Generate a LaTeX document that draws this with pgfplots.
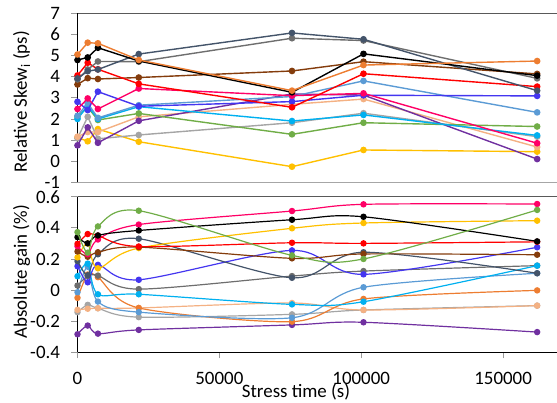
\documentclass[border=0pt]{standalone}
\usepackage{fontspec}
\setmainfont{Carlito}
\usepackage{pgfplots}
\pgfplotsset{compat=1.18}
\definecolor{cOrange}{HTML}{ED7D31}
\definecolor{cRed}{HTML}{FF0000}
\definecolor{cGray}{HTML}{6E6E6E}
\definecolor{cSlate}{HTML}{44546A}
\definecolor{cBrown}{HTML}{843C0C}
\definecolor{cBlue}{HTML}{4436F0}
\definecolor{cPink}{HTML}{FF0066}
\definecolor{cLBlue}{HTML}{5B9BD5}
\definecolor{cCyan}{HTML}{00B0F0}
\definecolor{cGreen}{HTML}{70AD47}
\definecolor{cPeach}{HTML}{F4B183}
\definecolor{cLGray}{HTML}{A5A5A5}
\definecolor{cYellow}{HTML}{FFC000}
\definecolor{cPurple}{HTML}{7030A0}
\newcommand{\fs}{\fontsize{19}{22}\selectfont}
\pgfplotsset{
  myax/.style={scale only axis, width=479.5bp, xmin=0, xmax=169000,
    axis x line*=bottom, axis y line*=left,
    tick align=outside, major tick length=6bp,
    tick style={draw=gray!80, line width=0.8bp},
    tick label style={font=\fs, inner sep=0pt},
    yticklabel style={xshift=-11.3bp},
    /pgf/number format/assume math mode=true,
    clip mode=individual},
  s/.style={mark=*, mark size=2.6bp, line width=1.4bp, color=#1, mark options={solid}},
}
\begin{document}
\begin{tikzpicture}
\path[use as bounding box] (0,0) rectangle (557bp,-403bp);
% ---------------- top panel
\begin{axis}[myax, at={(77.5bp,-13.3bp)}, anchor=north west, height=169bp,
  ymin=-1, ymax=7, ytick={-1,0,1,2,3,4,5,6,7}, xtick=\empty,
  x axis line style={-, draw=black!35, line width=1.2bp},
  y axis line style={-, draw=black, line width=1.2bp},
  ylabel={Relative Skew\textsubscript{i} (ps)},
  every axis y label/.style={at={(axis description cs:0,0.476)}, xshift=-56bp, rotate=90, anchor=center, font=\fs, inner sep=0pt},
]
\addplot[s=cYellow] coordinates {(0,1.12)(3600,0.94)(7200,1.52)(21600,0.92)(75600,-0.26)(100800,0.53)(162000,0.45)};
\addplot[s=cLGray] coordinates {(0,1.08)(3600,2.10)(7200,1.06)(21600,1.24)(75600,1.82)(100800,2.27)(162000,1.16)};
\addplot[s=cPeach] coordinates {(0,1.16)(3600,1.38)(7200,1.38)(21600,2.10)(75600,2.69)(100800,2.94)(162000,0.67)};
\addplot[s=cPurple] coordinates {(0,0.75)(3600,1.60)(7200,0.87)(21600,1.91)(75600,3.18)(100800,3.13)(162000,0.10)};
\addplot[s=cGreen] coordinates {(0,2.10)(3600,2.55)(7200,1.95)(21600,2.26)(75600,1.27)(100800,1.82)(162000,1.64)};
\addplot[s=cCyan] coordinates {(0,2.00)(3600,2.62)(7200,2.00)(21600,2.58)(75600,1.90)(100800,2.19)(162000,1.22)};
\addplot[s=cLBlue] coordinates {(0,2.15)(3600,2.74)(7200,2.05)(21600,2.65)(75600,3.06)(100800,3.80)(162000,2.31)};
\addplot[s=cBlue] coordinates {(0,2.81)(3600,2.42)(7200,3.29)(21600,2.60)(75600,2.82)(100800,3.12)(162000,3.09)};
\addplot[s=cPink] coordinates {(0,2.47)(3600,2.97)(7200,2.47)(21600,3.44)(75600,3.10)(100800,3.21)(162000,0.85)};
\addplot[s=cBrown] coordinates {(0,3.63)(3600,3.93)(7200,3.89)(21600,3.96)(75600,4.27)(100800,4.71)(162000,4.13)};
\addplot[s=cRed] coordinates {(0,4.06)(3600,4.66)(7200,4.35)(21600,3.66)(75600,2.55)(100800,4.14)(162000,3.53)};
\addplot[s=cGray] coordinates {(0,3.87)(3600,4.34)(7200,4.72)(21600,4.71)(75600,5.82)(100800,5.71)(162000,3.92)};
\addplot[s=cSlate] coordinates {(0,3.92)(3600,4.26)(7200,4.34)(21600,5.07)(75600,6.07)(100800,5.77)(162000,3.34)};
\addplot[s=black] coordinates {(0,4.79)(3600,4.91)(7200,5.37)(21600,4.74)(75600,3.26)(100800,5.08)(162000,4.05)};
\addplot[s=cOrange] coordinates {(0,5.05)(3600,5.61)(7200,5.58)(21600,4.79)(75600,3.34)(100800,4.55)(162000,4.74)};
\draw[draw=black!65, line width=1.2bp] (rel axis cs:0,1) -- (rel axis cs:1,1);
\end{axis}
% ---------------- bottom panel
\begin{axis}[myax, at={(77.5bp,-196.7bp)}, anchor=north west, height=155.6bp,
  ymin=-0.4, ymax=0.6, ytick={-0.4,-0.2,0,0.2,0.4,0.6},
  xtick={0,50000,100000,150000}, scaled x ticks=false,
  xticklabel={\pgfmathprintnumber[fixed,1000 sep={},assume math mode=true]{\tick}},
  xticklabel style={yshift=-14bp},
  x axis line style={-, draw=black, line width=1.2bp},
  y axis line style={-, draw=black, line width=1.2bp},
  ylabel={Absolute gain (\%)}, xlabel={Stress time (s)},
  every axis y label/.style={at={(axis description cs:0,0.518)}, xshift=-56bp, rotate=90, anchor=center, font=\fs, inner sep=0pt},
  every axis x label/.style={at={(axis description cs:0.4557,0)}, anchor=center, yshift=-40bp, font=\fs, inner sep=0pt},
  every axis plot/.append style={smooth},
]
\addplot[s=cPurple, line width=1.2bp] coordinates {(0,-0.284)(3600,-0.228)(7200,-0.280)(21600,-0.256)(75600,-0.224)(100800,-0.207)(162000,-0.270)};
\addplot[s=cLGray, line width=1.2bp] coordinates {(0,-0.142)(3600,-0.095)(7200,-0.117)(21600,-0.174)(75600,-0.156)(100800,-0.128)(162000,-0.100)};
\addplot[s=cPeach, line width=1.2bp] coordinates {(0,-0.127)(3600,-0.120)(7200,-0.117)(21600,-0.115)(75600,-0.083)(100800,-0.128)(162000,-0.100)};
\addplot[s=cOrange, line width=1.2bp] coordinates {(0,-0.050)(3600,0.100)(7200,0.083)(21600,-0.115)(75600,-0.203)(100800,-0.057)(162000,-0.002)};
\addplot[s=cLBlue, line width=1.2bp] coordinates {(0,-0.014)(3600,0.150)(7200,-0.074)(21600,-0.142)(75600,-0.178)(100800,0.018)(162000,0.108)};
\addplot[s=cGray, line width=1.2bp] coordinates {(0,0.029)(3600,0.090)(7200,0.093)(21600,0.006)(75600,0.090)(100800,0.122)(162000,0.157)};
\addplot[s=cCyan, line width=1.2bp] coordinates {(0,0.089)(3600,0.170)(7200,-0.027)(21600,-0.027)(75600,-0.092)(100800,-0.075)(162000,0.157)};
\addplot[s=cBlue, line width=1.2bp] coordinates {(0,0.153)(3600,0.050)(7200,0.162)(21600,0.066)(75600,0.255)(100800,0.101)(162000,0.275)};
\addplot[s=cSlate, line width=1.2bp] coordinates {(0,0.186)(3600,0.095)(7200,0.230)(21600,0.330)(75600,0.079)(100800,0.243)(162000,0.108)};
\addplot[s=cYellow, line width=1.2bp] coordinates {(0,0.210)(3600,0.300)(7200,0.140)(21600,0.270)(75600,0.397)(100800,0.431)(162000,0.446)};
\addplot[s=cBrown, line width=1.2bp] coordinates {(0,0.248)(3600,0.214)(7200,0.243)(21600,0.276)(75600,0.204)(100800,0.232)(162000,0.227)};
\addplot[s=cPink, line width=1.2bp] coordinates {(0,0.282)(3600,0.230)(7200,0.325)(21600,0.421)(75600,0.508)(100800,0.551)(162000,0.553)};
\addplot[s=cRed, line width=1.2bp] coordinates {(0,0.297)(3600,0.360)(7200,0.350)(21600,0.280)(75600,0.304)(100800,0.300)(162000,0.310)};
\addplot[s=black, line width=1.2bp] coordinates {(0,0.340)(3600,0.300)(7200,0.351)(21600,0.383)(75600,0.452)(100800,0.471)(162000,0.313)};
\addplot[s=cGreen, line width=1.2bp] coordinates {(0,0.372)(3600,0.240)(7200,0.409)(21600,0.510)(75600,0.223)(100800,0.200)(162000,0.515)};
\draw[draw=black!65, line width=1.2bp] (rel axis cs:0,1) -- (rel axis cs:1,1);
\end{axis}
\end{tikzpicture}
\end{document}
